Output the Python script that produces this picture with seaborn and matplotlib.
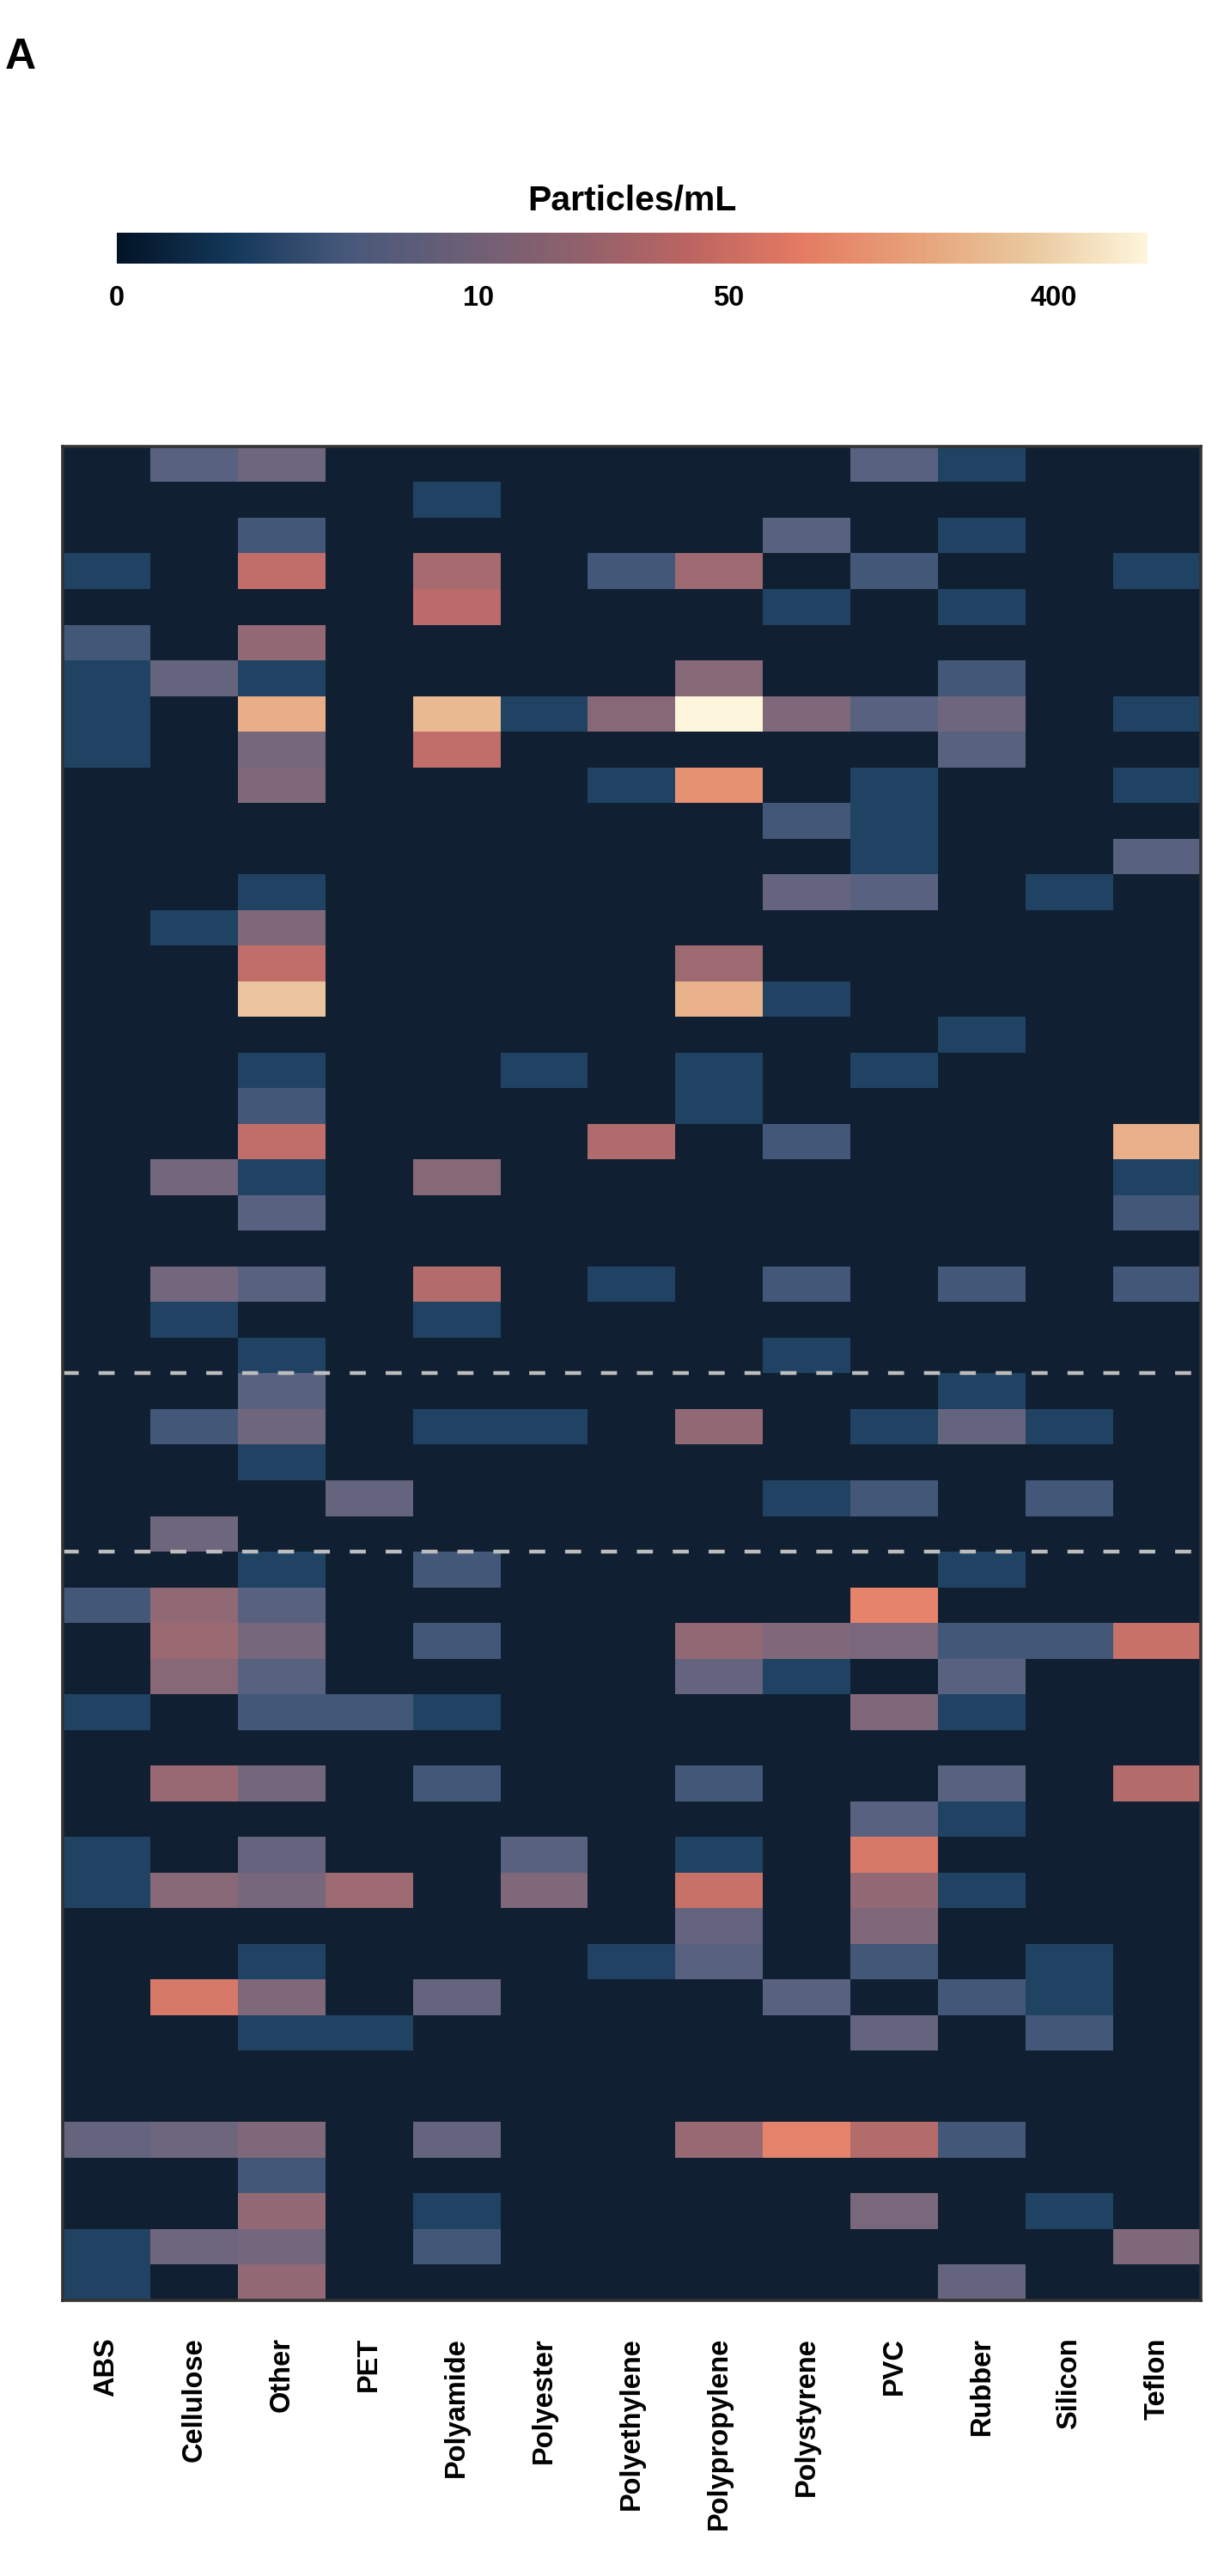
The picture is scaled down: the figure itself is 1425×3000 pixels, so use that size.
import numpy as np
import pandas as pd

import matplotlib
matplotlib.use("Agg")

import matplotlib.pyplot as plt
import seaborn as sns
from matplotlib.colors import LinearSegmentedColormap, Normalize, to_rgb
from matplotlib.cm import ScalarMappable

# ===========================
# Data (Particles/mL, one list per polymer, 52 samples)
# ===========================

polymers = ["ABS", "Cellulose", "Other", "PET", "Polyamide", "Polyester",
            "Polyethylene", "Polypropylene", "Polystyrene", "PVC",
            "Rubber", "Silicon", "Teflon"]

abs_vals = [0, 0, 0, 1.7, 0, 3.3, 1.7, 1.7, 1.7, 0,
            0, 0, 0, 0, 0, 0, 0, 0, 0, 0,
            0, 0, 0, 0, 0, 0, 0, 0, 0, 0,
            0, 0, 3.3, 0, 0, 1.7, 0, 0, 0, 1.7,
            1.7, 0, 0, 0, 0, 0, 0, 6.7, 0, 0,
            1.7, 1.7]

cellulose = [5, 0, 0, 0, 0, 0, 6.7, 0, 0, 0,
             0, 0, 0, 1.7, 0, 0, 0, 0, 0, 0,
             9, 0, 0, 9, 1.7, 0, 0, 3.3, 0, 0,
             8, 0, 17, 21, 14, 0, 0, 20, 0, 0,
             14, 0, 0, 60, 0, 0, 0, 8, 0, 0,
             8, 0]

other = [8, 0, 3.3, 40, 0, 18, 1.7, 195, 10, 12,
         0, 0, 1.7, 12, 40, 300, 0, 1.7, 3.3, 40,
         1.7, 5, 0, 5, 0, 1.7, 5, 8, 1.7, 0,
         0, 1.7, 5, 10, 5, 3.3, 0, 9, 0, 6.7,
         10, 0, 1.7, 12, 1.7, 0, 0, 12, 3.3, 18,
         9, 18]

pet = [0, 0, 0, 0, 0, 0, 0, 0, 0, 0,
       0, 0, 0, 0, 0, 0, 0, 0, 0, 0,
       0, 0, 0, 0, 0, 0, 0, 0, 0, 6.7,
       0, 0, 0, 0, 0, 3.3, 0, 0, 0, 0,
       22, 0, 0, 0, 1.7, 0, 0, 0, 0, 0,
       0, 0]

polyamide = [0, 1.7, 0, 25, 35, 0, 0, 240, 40, 0,
             0, 0, 0, 0, 0, 0, 0, 0, 0, 0,
             14, 0, 0, 32, 1.7, 0, 0, 1.7, 0, 0,
             0, 3.3, 0, 3.3, 0, 1.7, 0, 3.3, 0, 0,
             0, 0, 0, 6.7, 0, 0, 0, 6.7, 0, 1.7,
             3.3, 0]

polyester = [0, 0, 0, 0, 0, 0, 0, 1.7, 0, 0,
             0, 0, 0, 0, 0, 0, 0, 1.7, 0, 0,
             0, 0, 0, 0, 0, 0, 0, 1.7, 0, 0,
             0, 0, 0, 0, 0, 0, 0, 0, 0, 5,
             12, 0, 0, 0, 0, 0, 0, 0, 0, 0,
             0, 0]

polyethylene = [0, 0, 0, 3.3, 0, 0, 0, 14, 0, 1.7,
                0, 0, 0, 0, 0, 0, 0, 0, 0, 30,
                0, 0, 0, 1.7, 0, 0, 0, 0, 0, 0,
                0, 0, 0, 0, 0, 0, 0, 0, 0, 0,
                0, 0, 1.7, 0, 0, 0, 0, 0, 0, 0,
                0, 0]

polypropylene = [0, 0, 0, 22, 0, 0, 14, 728, 0, 110,
                 0, 0, 0, 0, 22, 210, 0, 1.7, 1.7, 0,
                 0, 0, 0, 0, 0, 0, 0, 17, 0, 0,
                 0, 0, 0, 17, 6.7, 0, 0, 3.3, 0, 1.7,
                 46, 6.7, 5, 0, 0, 0, 0, 20, 0, 0,
                 0, 0]

polystyrene = [0, 0, 5, 0, 1.7, 0, 0, 12, 0, 0,
               3.3, 0, 6.7, 0, 0, 1.7, 0, 0, 0, 3.3,
               0, 0, 0, 3.3, 0, 1.7, 0, 0, 0, 1.7,
               0, 0, 0, 12, 1.7, 0, 0, 0, 0, 0,
               0, 0, 0, 5, 0, 0, 0, 82, 0, 0,
               0, 0]

pvc = [5, 0, 0, 3.3, 0, 0, 0, 5, 0, 1.7,
       1.7, 1.7, 5, 0, 0, 0, 0, 1.7, 0, 0,
       0, 0, 0, 0, 0, 0, 0, 1.7, 0, 3.3,
       0, 0, 82, 10.5, 0, 12, 0, 0, 5, 60,
       18, 12, 3.3, 0, 6.7, 0, 0, 32, 0, 10.5,
       0, 0]

rubber = [1.7, 0, 1.7, 0, 1.7, 0, 3.3, 8, 5, 0,
          0, 0, 0, 0, 0, 0, 1.7, 0, 0, 0,
          0, 0, 0, 3.3, 0, 0, 1.7, 6.7, 0, 0,
          0, 1.7, 0, 3.3, 5, 1.7, 0, 5, 1.7, 0,
          1.7, 0, 0, 3.3, 0, 0, 0, 3.3, 0, 0,
          0, 6.7]

silicon = [0, 0, 0, 0, 0, 0, 0, 0, 0, 0,
           0, 0, 1.7, 0, 0, 0, 0, 0, 0, 0,
           0, 0, 0, 0, 0, 0, 0, 1.7, 0, 3.3,
           0, 0, 0, 3.3, 0, 0, 0, 0, 0, 0,
           0, 0, 1.7, 1.7, 3.3, 0, 0, 0, 0, 1.7,
           0, 0]

teflon = [0, 0, 0, 1.7, 0, 0, 0, 1.7, 0, 1.7,
          0, 5, 0, 0, 0, 0, 0, 0, 0, 200,
          1.7, 3.3, 0, 3.3, 0, 0, 0, 0, 0, 0,
          0, 0, 0, 46, 0, 0, 0, 32, 0, 0,
          0, 0, 0, 0, 0, 0, 0, 0, 0, 0,
          12, 0]

# group boundaries (dashed separators)
group_breaks = [26, 31]

colorbar_ticks = [0, 10, 50, 400]

# ===========================
# Style
# ===========================

sns.set_style("white")
plt.rcParams["font.family"] = ["Liberation Sans", "DejaVu Sans"]
plt.rcParams["font.weight"] = "bold"
plt.rcParams["text.color"] = "black"
plt.rcParams["xtick.color"] = "black"
plt.rcParams["ytick.color"] = "black"

lipari = ["#031326", "#13385A", "#47587A", "#6B5F76", "#8E616C",
          "#BC6461", "#E57B62", "#E7A279", "#E9C99F", "#FDF5DA"]
cmap = LinearSegmentedColormap.from_list("lipari", lipari)
# tiles are drawn slightly transparent over white
faded = LinearSegmentedColormap.from_list(
    "lipari_faded",
    [tuple(0.95 * c + 0.05 for c in to_rgb(h)) for h in lipari]
)

df = pd.DataFrame(
    dict(zip(polymers, [abs_vals, cellulose, other, pet, polyamide, polyester,
                        polyethylene, polypropylene, polystyrene, pvc,
                        rubber, silicon, teflon]))
)

# pseudo-log transform (asinh(x / 2))
z = np.arcsinh(df / 2)
vmax = float(z.values.max())

# ===========================
# Figure
# ===========================

fig = plt.figure(figsize=(14.25, 30), dpi=100)

ax = fig.add_axes([0.0512, 0.107, 0.9298, 0.7197])

sns.heatmap(
    z,
    cmap=faded,
    vmin=0,
    vmax=vmax,
    cbar=False,
    yticklabels=False,
    ax=ax
)

for sp in ax.spines.values():
    sp.set_visible(True)
    sp.set_color("#333333")
    sp.set_linewidth(2.6)

ax.tick_params(axis="x", length=0, pad=31, labelsize=23.5, rotation=90,
               labelcolor="black")
ax.set_xlabel("")
ax.set_ylabel("")

for b in group_breaks:
    ax.axhline(b, color="#bdbdbd", lw=3.2, ls=(0, (4.2, 5.2)))

# colorbar
cax = fig.add_axes([0.0954, 0.8977, 0.8421, 0.012])
cb = fig.colorbar(ScalarMappable(Normalize(0, vmax), cmap), cax=cax,
                  orientation="horizontal")
cb.outline.set_visible(False)
cb.set_ticks(np.arcsinh(np.array(colorbar_ticks) / 2))
cb.set_ticklabels([str(t) for t in colorbar_ticks])
cax.tick_params(length=0, pad=18, labelsize=23.5, labelcolor="black")
cax.set_title("Particles/mL", fontsize=29.5, fontweight="bold", pad=19,
              color="black")

fig.text(0.004, 1 - 44 / 3000, "A", fontsize=36, fontweight="bold",
         va="top", color="black")

plt.savefig("out.png", dpi=100)
plt.close()
